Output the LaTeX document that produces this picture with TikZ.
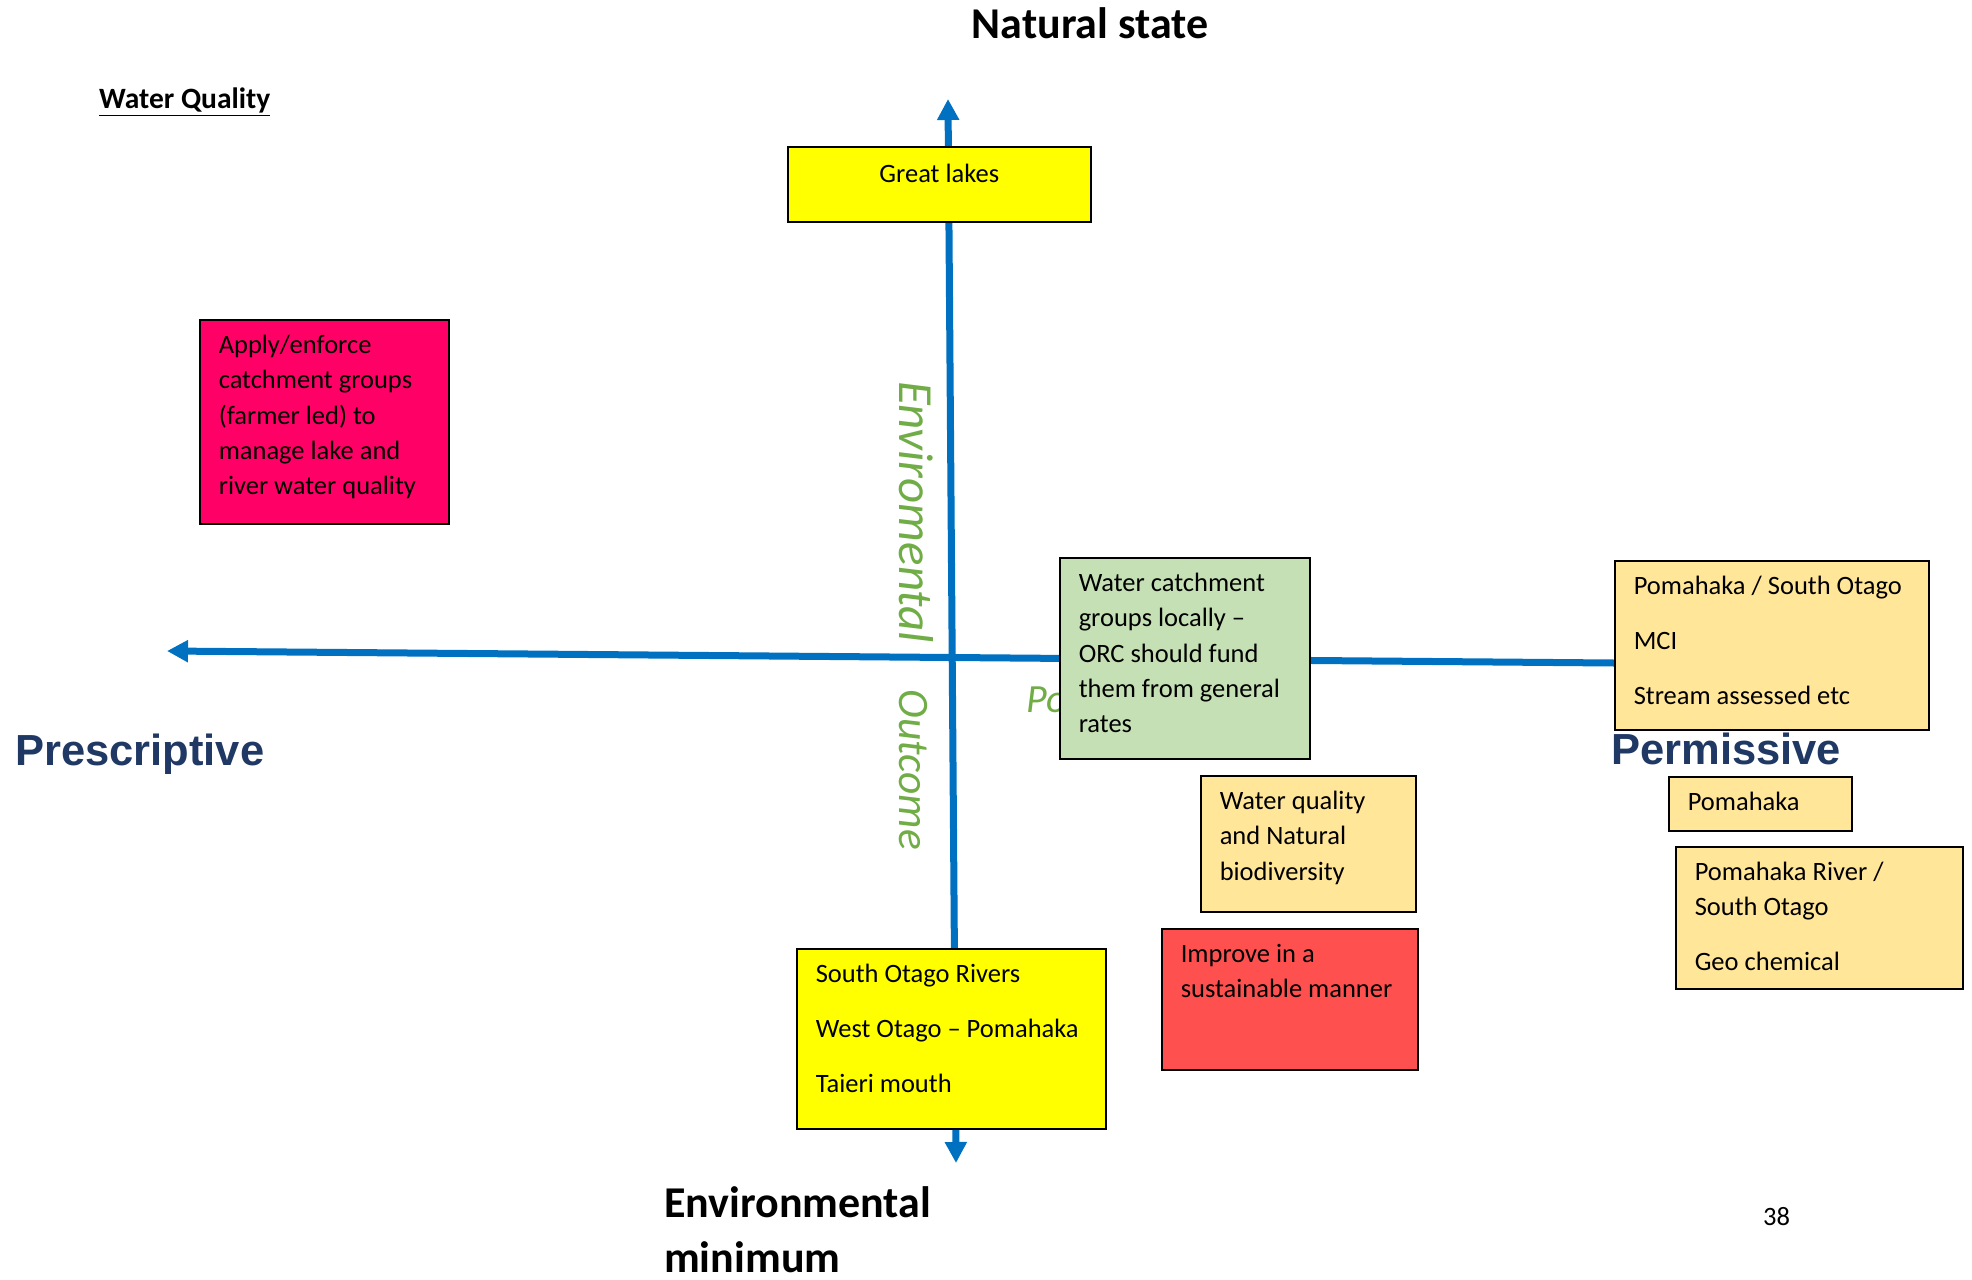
\documentclass[tikz,border=0pt]{standalone}
\usepackage{fontspec}
\setmainfont{Carlito}
\newfontfamily\arialfont{Liberation Sans}
\usetikzlibrary{arrows.meta}

\definecolor{axisblue}{HTML}{0070C0}
\definecolor{labelnavy}{HTML}{1F3864}
\definecolor{labelgreen}{HTML}{70AD47}
\definecolor{cardyellow}{HTML}{FFFF00}
\definecolor{cardpink}{HTML}{FF0066}
\definecolor{cardgreen}{HTML}{C5E0B4}
\definecolor{cardtan}{HTML}{FFE699}
\definecolor{cardred}{HTML}{FF5050}

\begin{document}
\begin{tikzpicture}[x=1pt,y=-1pt,>={Triangle[length=21pt,width=21pt]},
  axis/.style={draw=axisblue,line width=7pt},
  card/.style={draw=black,line width=1.5pt,anchor=north west,align=flush left,
    inner xsep=19pt,inner ysep=0pt,text height=34pt,
    font=\fontsize{26.5}{35.2}\selectfont},
  pole/.style={inner sep=0pt,font=\fontsize{44}{55}\selectfont\bfseries},
  side/.style={anchor=base west,inner sep=0pt,text=labelnavy,
    font=\arialfont\fontsize{43.5}{50}\selectfont\bfseries},
  slant/.style={inner sep=0pt,text=labelgreen}]

\useasboundingbox (0,0) rectangle (1972,1279);

\coordinate (topend) at (948,99);
\coordinate (bottomend) at (956,1163);
\coordinate (leftend) at (167,651);
\coordinate (rightend) at (1614,663);

\draw[axis,<->] (bottomend) -- (topend);
\draw[axis,->] (rightend) -- (leftend);

\node[slant,rotate=-90,anchor=base,font=\fontsize{49}{49}\selectfont\itshape] (envi) at (899,512) {Enviromental};
\node[slant,rotate=-90,anchor=base,font=\fontsize{43.5}{43.5}\selectfont\itshape] (outcome) at (899,770) {Outcome};
\node[slant,anchor=base west,font=\fontsize{40}{40}\selectfont\itshape] (po) at (1026,712) {Po};

\node[pole,anchor=base] (natural) at (1090,39) {Natural state};
\node[pole,anchor=base west,text width=400pt,align=flush left] (envmin) at (664,1217) {Environmental\\minimum};
\node[side] (prescriptive) at (15,765) {Prescriptive};
\node[side] (permissive) at (1611,764) {Permissive};
\node[anchor=base west,inner sep=0pt,font=\fontsize{29.5}{34}\selectfont\bfseries] (heading) at (99,109) {\underline{Water Quality}};
\node[anchor=base west,inner sep=0pt,font=\fontsize{26.5}{32}\selectfont] (page) at (1763,1225) {38};

\node[card,fill=cardyellow,align=flush center,text width=265pt,text height=36pt,text depth=39pt] (lakes) at (787,146) {Great lakes};
\node[card,fill=cardpink,text width=211pt,text depth=170pt] (enforce) at (199,319) {Apply/enforce\\catchment groups\\(farmer led) to\\manage lake and\\river water quality};
\node[card,fill=cardgreen,text width=212pt,text depth=167pt] (catchment) at (1059,557) {Water catchment\\groups locally –\\ORC should fund\\them from general\\rates};
\node[card,fill=cardtan,text width=276pt,text depth=135pt] (southotago) at (1614,560) {Pomahaka / South Otago\\[19.5pt]MCI\\[19.5pt]Stream assessed etc};
\node[card,fill=cardtan,text width=145pt,text depth=20pt] (pomahaka) at (1668,776) {Pomahaka};
\node[card,fill=cardtan,text width=249pt,text depth=108pt] (river) at (1675,846) {Pomahaka River /\\South Otago\\[19.5pt]Geo chemical};
\node[card,fill=cardtan,text width=177pt,text depth=102pt] (quality) at (1200,775) {Water quality\\and Natural\\biodiversity};
\node[card,fill=cardred,text width=218pt,text depth=107pt] (improve) at (1161,928) {Improve in a\\sustainable manner};
\node[card,fill=cardyellow,text width=271pt,text depth=146pt] (rivers) at (796,948) {South Otago Rivers\\[19.5pt]West Otago – Pomahaka\\[19.5pt]Taieri mouth};

\end{tikzpicture}
\end{document}
